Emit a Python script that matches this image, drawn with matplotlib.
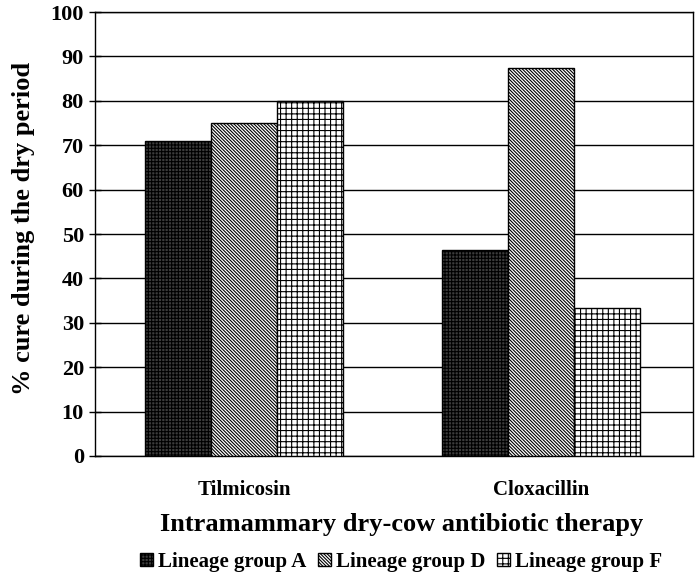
import numpy as np
import matplotlib.pyplot as plt

# data
therapies = ['Tilmicosin', 'Cloxacillin']
groups = ['Lineage group A', 'Lineage group D', 'Lineage group F']
group_a = [71.0, 46.3]
group_d = [75.0, 87.5]
group_f = [80.0, 33.3]
yticks = np.arange(0, 101, 10)

plt.rcParams['font.family'] = ['Liberation Serif', 'DejaVu Serif']
plt.rcParams['font.weight'] = 'bold'
plt.rcParams['hatch.linewidth'] = 0.8

fig = plt.figure(figsize=(6.99, 5.80), dpi=100)
ax = fig.add_axes([0.136, 0.2138, 0.8555, 0.7655])

x = np.arange(len(therapies))
w = 0.222
styles = [
    dict(facecolor='#3c3c3c', hatch='+++++'),
    dict(facecolor='white', hatch='\\' * 10),
    dict(facecolor='white', hatch='+++'),
]
series = [group_a, group_d, group_f]
for i, (vals, st, name) in enumerate(zip(series, styles, groups)):
    ax.bar(x + (i - 1) * w, vals, w, edgecolor='black', linewidth=1.0,
           label=name, zorder=3, **st)

ax.set_ylim(0, 100)
ax.set_xlim(-0.502, 1.512)
ax.set_yticks(yticks)
ax.yaxis.grid(True, color='black', linewidth=1.0, zorder=0)
ax.set_axisbelow(True)
ax.set_xticks(x)
ax.set_xticklabels(therapies, fontsize=15, fontweight='bold')
ax.tick_params(axis='x', length=0, pad=17)
ax.tick_params(axis='y', direction='inout', length=8, width=1, labelsize=16, pad=4)
for lab in ax.get_yticklabels():
    lab.set_fontweight('bold')
for s in ax.spines.values():
    s.set_linewidth(1.0)

ax.set_xlabel('Intramammary dry-cow antibiotic therapy', fontsize=19,
              fontweight='bold', labelpad=10)
ax.xaxis.label.set_x(0.513)
ax.set_ylabel('% cure during the dry period', fontsize=19, fontweight='bold',
              labelpad=11)
ax.yaxis.label.set_y(0.513)

handles, labels = ax.get_legend_handles_labels()
fig.legend(handles, labels, loc='center', bbox_to_anchor=(0.574, 0.031), ncol=3,
           frameon=False, handlelength=0.62, handleheight=0.62,
           handletextpad=0.25, columnspacing=0.55, prop={'weight': 'bold', 'size': 15})

fig.savefig('out.png', dpi=100)
